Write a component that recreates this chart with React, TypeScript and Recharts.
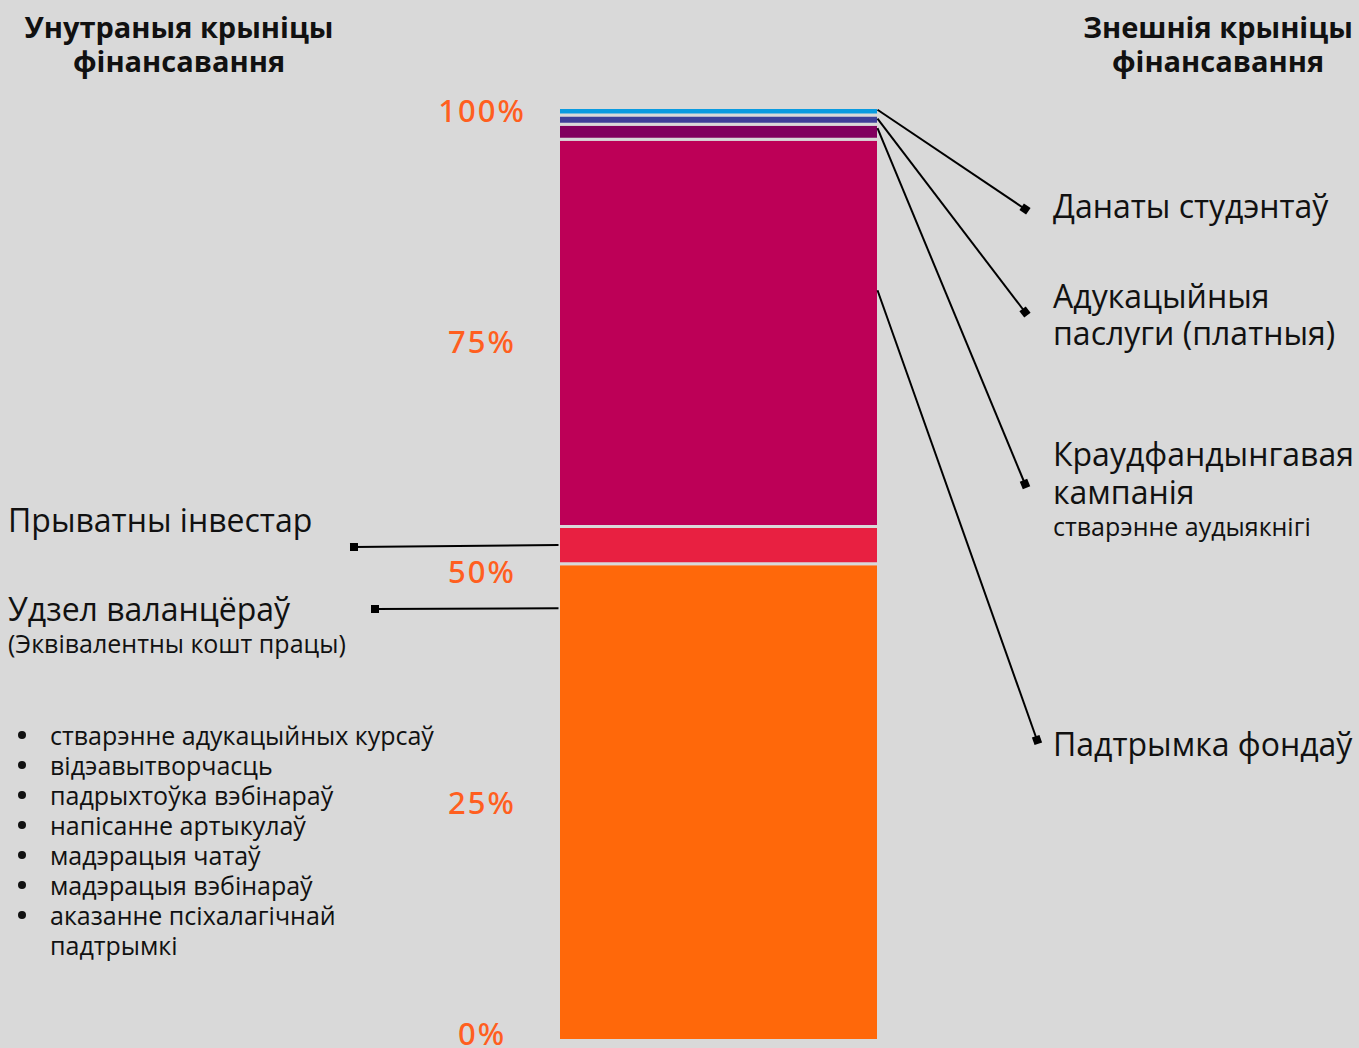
import React from 'react';
import { BarChart, Bar, XAxis, YAxis } from 'recharts';

const categories = ['Фінансаванне'];
const volunteers = [51.1];
const privateInvestor = [4.0];
const fundSupport = [41.5];
const crowdfunding = [1.6];
const eduServices = [1.0];
const studentDonations = [0.8];
const percentTicks = [0, 25, 50, 75, 100];
const bulletItems = [
  'стварэнне адукацыйных курсаў',
  'відэавытворчасць',
  'падрыхтоўка вэбінараў',
  'напісанне артыкулаў',
  'мадэрацыя чатаў',
  'мадэрацыя вэбінараў',
  'аказанне псіхалагічнай\nпадтрымкі',
];

const data = categories.map((name, i) => ({
  name,
  volunteers: volunteers[i],
  privateInvestor: privateInvestor[i],
  fundSupport: fundSupport[i],
  crowdfunding: crowdfunding[i],
  eduServices: eduServices[i],
  studentDonations: studentDonations[i],
}));

const BG = '#d9d9d9';
const FONT = '"Open Sans", "Noto Sans", sans-serif';
const BIG = 32;
const SMALL = 25;

function Connector({ x1, y1, x2, y2 }: { x1: number; y1: number; x2: number; y2: number }) {
  const ang = (Math.atan2(y2 - y1, x2 - x1) * 180) / Math.PI;
  return (
    <g>
      <line x1={x1} y1={y1} x2={x2} y2={y2} stroke="#000" strokeWidth={2} />
      <rect x={x2 - 4} y={y2 - 4} width={8} height={8} fill="#000" transform={`rotate(${ang} ${x2} ${y2})`} />
    </g>
  );
}

type LabelSpec = {
  from: 'right' | 'left';
  frac: number;
  yOff?: number;
  end: [number, number];
  textX: number;
  lines: { text: string; y: number; size: number }[];
};

function makeLabel(spec: LabelSpec) {
  return (props: any) => {
    const vb = props.viewBox || props;
    const x = Number(vb.x);
    const y = Number(vb.y);
    const w = Number(vb.width);
    const h = Number(vb.height);
    const sx = spec.from === 'right' ? x + w - 1 : x;
    const sy = y + h * spec.frac + (spec.yOff || 0);
    return (
      <g>
        <Connector x1={sx} y1={sy} x2={spec.end[0]} y2={spec.end[1]} />
        {spec.lines.map((l, i) => (
          <text key={i} x={spec.textX} y={l.y} fontSize={l.size} fontFamily={FONT} fill="#111">
            {l.text}
          </text>
        ))}
      </g>
    );
  };
}

const PercentTick = (props: any) => {
  const { y, payload } = props;
  const yy = 1033 - (1040.5 - Number(y)) * 0.9893;
  return (
    <text
      x={482}
      y={yy}
      textAnchor="middle"
      dominantBaseline="central"
      fontSize={31}
      fontWeight={500}
      letterSpacing={2}
      fontFamily='"Noto Sans", sans-serif'
      fill="#ff5f1f"
    >
      {payload.value}%
    </text>
  );
};

export default function App() {
  return (
    <div style={{ position: 'absolute', left: 0, top: 0, width: 1359, height: 1048, background: BG, overflow: 'hidden' }}>
      <BarChart
        width={1359}
        height={1048}
        data={data}
        margin={{ top: 107.5, right: 480.5, bottom: 7.5, left: 458.5 }}
        barCategoryGap={0}
      >
        <XAxis dataKey="name" hide />
        <YAxis
          width={100}
          domain={[0, 100]}
          ticks={percentTicks}
          axisLine={false}
          tickLine={false}
          tick={<PercentTick />}
          interval={0}
        />
        <Bar
          dataKey="volunteers"
          stackId="a"
          fill="#ff680a"
          stroke={BG}
          strokeWidth={3}
          isAnimationActive={false}
          label={makeLabel({
            from: 'left',
            frac: 0,
            yOff: 44.5,
            end: [375, 609],
            textX: 8,
            lines: [
              { text: 'Удзел валанцёраў', y: 621, size: BIG },
              { text: '(Эквівалентны кошт працы)', y: 653, size: SMALL },
            ],
          })}
        />
        <Bar
          dataKey="privateInvestor"
          stackId="a"
          fill="#e82041"
          stroke={BG}
          strokeWidth={3}
          isAnimationActive={false}
          label={makeLabel({
            from: 'left',
            frac: 0.5,
            end: [354, 547],
            textX: 8,
            lines: [{ text: 'Прыватны інвестар', y: 532, size: BIG }],
          })}
        />
        <Bar
          dataKey="fundSupport"
          stackId="a"
          fill="#bd0057"
          stroke={BG}
          strokeWidth={3}
          isAnimationActive={false}
          label={makeLabel({
            from: 'right',
            frac: 0.39,
            end: [1037, 740],
            textX: 1053,
            lines: [{ text: 'Падтрымка фондаў', y: 756, size: BIG }],
          })}
        />
        <Bar
          dataKey="crowdfunding"
          stackId="a"
          fill="#82005e"
          stroke={BG}
          strokeWidth={3}
          isAnimationActive={false}
          label={makeLabel({
            from: 'right',
            frac: 0.25,
            end: [1025, 484],
            textX: 1053,
            lines: [
              { text: 'Краудфандынгавая', y: 466, size: BIG },
              { text: 'кампанія', y: 504, size: BIG },
              { text: 'стварэнне аудыякнігі', y: 536, size: SMALL },
            ],
          })}
        />
        <Bar
          dataKey="eduServices"
          stackId="a"
          fill="#3f3f98"
          stroke={BG}
          strokeWidth={3}
          isAnimationActive={false}
          label={makeLabel({
            from: 'right',
            frac: 0.4,
            end: [1025, 312],
            textX: 1053,
            lines: [
              { text: 'Адукацыйныя', y: 308, size: BIG },
              { text: 'паслуги (платныя)', y: 345, size: BIG },
            ],
          })}
        />
        <Bar
          dataKey="studentDonations"
          stackId="a"
          fill="#0a9be0"
          stroke={BG}
          strokeWidth={3}
          isAnimationActive={false}
          label={makeLabel({
            from: 'right',
            frac: 0.3,
            end: [1025, 209],
            textX: 1053,
            lines: [{ text: 'Данаты студэнтаў', y: 218, size: BIG }],
          })}
        />
      </BarChart>

      <div style={{ position: 'absolute', left: 9, top: 10, width: 340, textAlign: 'center', fontFamily: FONT, fontWeight: 700, fontSize: 29, lineHeight: '34px', color: '#111' }}>
        Унутраныя крыніцы фінансавання
      </div>
      <div style={{ position: 'absolute', left: 1048, top: 10, width: 340, textAlign: 'center', fontFamily: FONT, fontWeight: 700, fontSize: 29, lineHeight: '34px', color: '#111' }}>
        Знешнія крыніцы фінансавання
      </div>
      <ul style={{ position: 'absolute', left: 0, top: 720, margin: 0, padding: 0, listStyle: 'none', fontFamily: FONT, fontSize: SMALL, lineHeight: '30px', color: '#111' }}>
        {bulletItems.map((t, i) => (
          <li key={i} style={{ position: 'relative', paddingLeft: 50, whiteSpace: 'pre-line' }}>
            <span style={{ position: 'absolute', left: 18, top: 11, width: 8, height: 8, borderRadius: 4, background: '#111' }} />
            {t}
          </li>
        ))}
      </ul>
    </div>
  );
}
